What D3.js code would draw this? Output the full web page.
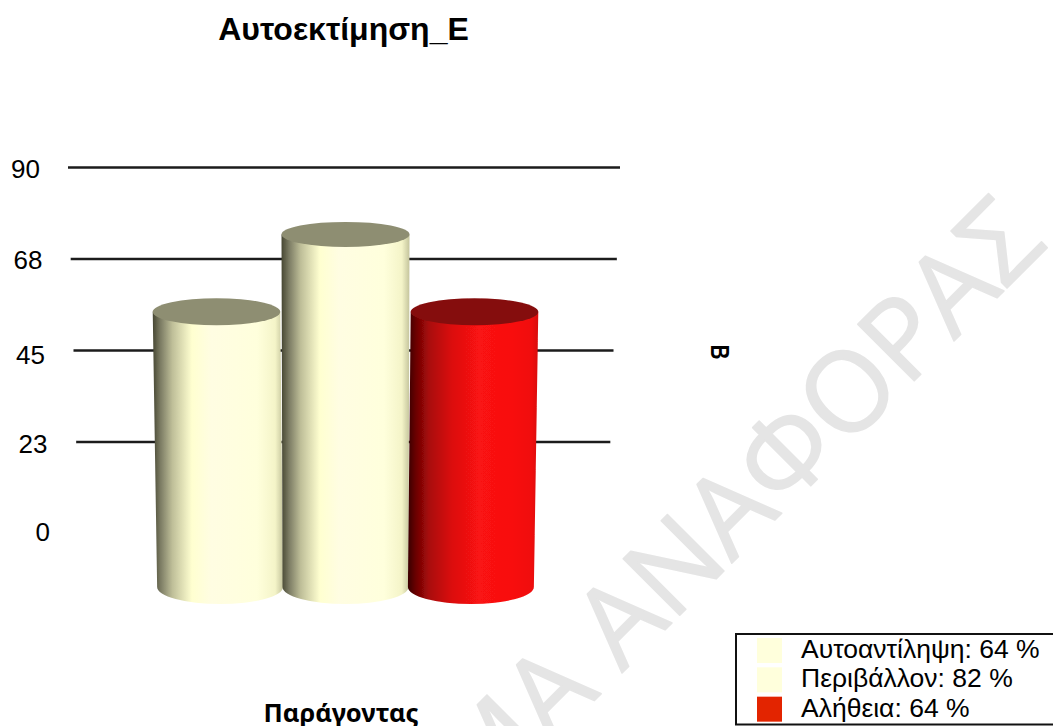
<!DOCTYPE html>
<html><head><meta charset="utf-8">
<script src="https://cdnjs.cloudflare.com/ajax/libs/d3/7.8.5/d3.min.js"></script>
<style>html,body{margin:0;padding:0;background:#fff;overflow:hidden}svg{display:block}</style>
</head><body><svg id="c" width="1053" height="726"></svg>
<script>
const chartTitle = "Αυτοεκτίμηση_Ε";
const xTitle = "Παράγοντας";
const yTitle = "B";
const watermark = "ΔΕΙΓΜΑ ΑΝΑΦΟΡΑΣ";
const categories = ["Αυτοαντίληψη", "Περιβάλλον", "Αλήθεια"];
const values = [64, 82, 64];
const legendPercent = [64, 82, 64];
const tickLabels = [90, 68, 45, 23, 0];
const gridTicks = [90, 68, 45, 23];
const seriesColors = ["#ffffdc", "#ffffdc", "#e32400"];
const gradientKinds = ["cream", "cream", "red"];

const svg = d3.select("#c");
const defs = svg.append("defs");
const sans = "'Liberation Sans', Arial, sans-serif";

const f = defs.append("filter").attr("id","soft").attr("x","-5%").attr("y","-5%").attr("width","110%").attr("height","110%");
f.append("feGaussianBlur").attr("stdDeviation",0.6);
const f2 = defs.append("filter").attr("id","softl").attr("filterUnits","userSpaceOnUse")
  .attr("x",0).attr("y",0).attr("width",1053).attr("height",726);
f2.append("feGaussianBlur").attr("stdDeviation",0.6);

const stops = {
  cream: [[0,"#464632"],[.06,"#7c7c64"],[.15,"#bebe98"],[.3,"#ffffd0"],[.45,"#fffde2"],[.8,"#ffffdc"],[.94,"#f4f4c8"],[1,"#c4c49c"]],
  red: [[0,"#3a0000"],[.06,"#6a0202"],[.16,"#a80a0a"],[.34,"#dc1010"],[.55,"#fa1212"],[.8,"#f81010"],[.95,"#f00a0a"],[1,"#d80808"]]
};
Object.keys(stops).forEach(k=>{
  const g = defs.append("linearGradient").attr("id","g-"+k).attr("x1",0).attr("x2",1).attr("y1",0).attr("y2",0);
  stops[k].forEach(s=>g.append("stop").attr("offset",s[0]).attr("stop-color",s[1]));
});
const capColor = {cream:"#8e8e72", red:"#850b0b"};

// watermark
svg.append("text").attr("transform","translate(1049,246) rotate(-45)")
  .attr("text-anchor","end").attr("font-family","'Open Sans',sans-serif").attr("font-size",112)
  .attr("fill","#e5e5e5").attr("stroke","#e5e5e5").attr("stroke-width",1.5).attr("stroke-linejoin","round").text(watermark);

// title
svg.append("text").attr("x",343.5).attr("y",40).attr("text-anchor","middle")
  .attr("font-family",sans).attr("font-weight","bold").attr("font-size",32).attr("fill","#000").text(chartTitle);

// axis scales (tilted frame: the tick rows narrow as the value falls)
const yTick = d3.scalePoint().domain(tickLabels).range([167.5,533.5]);
const yLabel = d3.scalePow().exponent(1.036).domain([0,90]).range([541,178]);
const gridLeft = d3.scaleLinear().domain([90,0]).range([68,79]);
const gridRight = d3.scaleLinear().domain([90,0]).range([620,607]);
const labelRight = d3.scaleLinear().domain([90,0]).range([40,50]);

svg.append("g").attr("filter","url(#softl)").selectAll("line").data(gridTicks).join("line")
  .attr("x1",d=>gridLeft(d)).attr("x2",d=>gridRight(d))
  .attr("y1",d=>yTick(d)).attr("y2",d=>yTick(d))
  .attr("stroke","#1c1c1c").attr("stroke-width",2.5);

svg.append("g").selectAll("text").data(tickLabels).join("text")
  .attr("x",d=>labelRight(d)).attr("y",d=>yLabel(d)).attr("text-anchor","end")
  .attr("font-family",sans).attr("font-size",26).attr("fill","#000").text(d=>d);

// cylinders
const xBand = d3.scaleBand().domain(categories).range([152,539]).padding(0);
const yBar = d3.scaleLinear().domain([0,90]).range([587,200]);
const ryScale = d3.scaleLinear().domain([0,82]).range([17,12.5]);
const persp = d3.scaleLinear().domain([0,64]).range([0.972,1]);
const widthPersp = d3.scaleLinear().domain([0,82]).range([0.984,1]);
const vanish = xBand(categories[1]) + xBand.bandwidth()/2;
const cxAt = (c,v)=> vanish + (xBand(c)+xBand.bandwidth()/2-vanish)*persp(v);
const rxAt = v => (xBand.bandwidth()/2-0.5)*widthPersp(v);

const bars = svg.append("g").attr("filter","url(#soft)").selectAll("g").data(categories).join("g");
bars.append("path").attr("fill",(d,i)=>`url(#g-${gradientKinds[i]})`)
  .attr("d",(d,i)=>{
    const v=values[i], tx=cxAt(d,v), bx=cxAt(d,0), tr=rxAt(v), br=rxAt(0), ty=yBar(v), by=yBar(0), ry0=ryScale(0);
    return `M${tx-tr},${ty}L${bx-br},${by}A${br},${ry0} 0 0 0 ${bx+br},${by}L${tx+tr},${ty}Z`;
  });
bars.append("ellipse").attr("fill",(d,i)=>capColor[gradientKinds[i]])
  .attr("cx",(d,i)=>cxAt(d,values[i])).attr("cy",(d,i)=>yBar(values[i]))
  .attr("rx",(d,i)=>rxAt(values[i])).attr("ry",(d,i)=>ryScale(values[i]));

// axis titles
svg.append("text").attr("x",341).attr("y",722).attr("text-anchor","middle")
  .attr("font-family","'Noto Sans',sans-serif").attr("font-weight","bold").attr("font-size",25.5).attr("fill","#000").text(xTitle);
svg.append("text").attr("transform","translate(711,352) rotate(90) scale(0.8,1)").attr("text-anchor","middle")
  .attr("font-family",sans).attr("font-weight","bold").attr("font-size",26).attr("fill","#000").text(yTitle);

// legend
const lg = svg.append("g");
lg.append("rect").attr("x",736).attr("y",634).attr("width",330).attr("height",90.5)
  .attr("fill","#fff").attr("stroke","#111").attr("stroke-width",2);
const yLeg = d3.scaleBand().domain(categories).range([638,726]).padding(0);
lg.selectAll("rect.sw").data(categories).join("rect").attr("class","sw")
  .attr("x",757).attr("width",25).attr("y",d=>yLeg(d)).attr("height",25)
  .attr("fill",(d,i)=>seriesColors[i]);
lg.selectAll("text").data(categories).join("text")
  .attr("x",801).attr("y",d=>yLeg(d)+20).attr("font-family",sans).attr("font-size",26.5).attr("fill","#000")
  .text((d,i)=>`${d}: ${legendPercent[i]} %`);
</script></body></html>
